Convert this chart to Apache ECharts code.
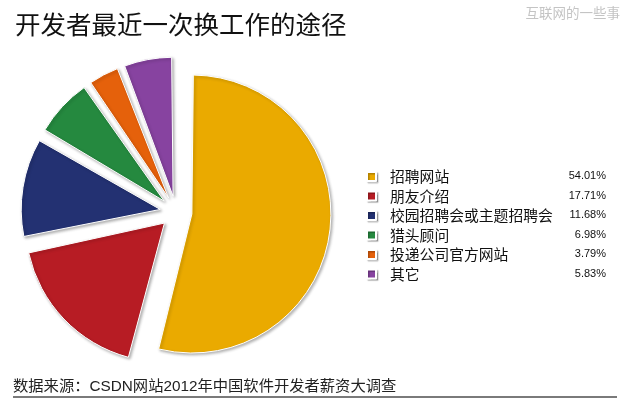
<!DOCTYPE html>
<html>
<head>
<meta charset="utf-8">
<script src="https://cdn.jsdelivr.net/npm/echarts@6/dist/echarts.min.js"></script>
<style>
html,body{margin:0;padding:0;background:#fff;}
#chart{width:628px;height:408px;}
</style>
</head>
<body>
<div id="chart"></div>
<script>
const categories = ['招聘网站', '朋友介绍', '校园招聘会或主题招聘会', '猎头顾问', '投递公司官方网站', '其它'];
const percents = [54.01, 17.71, 11.68, 6.98, 3.79, 5.83];
const colors = ['#EAAA00', '#B71C24', '#233172', '#25893F', '#E5610B', '#8743A0'];
const titleText = '开发者最近一次换工作的途径';
const watermarkText = '互联网的一些事';
const sourceText = '数据来源：CSDN网站2012年中国软件开发者薪资大调查';

const chart = echarts.init(document.getElementById('chart'));
const cjk = '"Noto Sans CJK SC", "Noto Sans", sans-serif';
const mixed = '"Liberation Sans", "Noto Sans CJK SC", sans-serif';
const pctMap = {};
categories.forEach((c, i) => { pctMap[c] = percents[i]; });

chart.setOption({
  backgroundColor: '#ffffff',
  animation: false,
  title: [
    { text: titleText, left: 10, top: 7,
      textStyle: { fontFamily: cjk, fontSize: 25.5, fontWeight: 'normal', color: '#111' } },
    { text: watermarkText, right: 3, top: 1,
      textStyle: { fontFamily: cjk, fontSize: 13.5, fontWeight: 'normal', color: '#c4c4c4' } },
    { text: sourceText, left: 8, top: 374,
      textStyle: { fontFamily: mixed, fontSize: 15.3, fontWeight: 'normal', color: '#222' } }
  ],
  graphic: [
    { type: 'line', shape: { x1: 13, y1: 397, x2: 617, y2: 397 },
      style: { stroke: '#7a7a7a', lineWidth: 2 } }
  ],
  legend: {
    orient: 'vertical',
    left: 361,
    top: 164,
    itemWidth: 9,
    itemHeight: 9,
    itemGap: 4.7,
    icon: 'rect',
    selectedMode: false,
    data: categories,
    itemStyle: { shadowColor: 'rgba(0,0,0,0.25)', shadowBlur: 1, shadowOffsetX: 1.5, shadowOffsetY: 1.5 },
    formatter: function (name) {
      return '{n|' + name + '}{v|' + pctMap[name].toFixed(2) + '%}';
    },
    textStyle: {
      rich: {
        n: { width: 170, fontFamily: cjk, fontSize: 14.8, color: '#111', lineHeight: 16, padding: [0, 0, 0, 9] },
        v: { width: 46, align: 'right', fontFamily: '"Liberation Sans", Arial, sans-serif', fontSize: 11, color: '#111', lineHeight: 16 }
      }
    }
  },
  series: [{
    type: 'pie',
    center: [176, 212],
    radius: 139,
    startAngle: 90,
    clockwise: true,
    padAngle: 1.2,
    selectedMode: 'multiple',
    selectedOffset: 16,
    label: { show: false },
    labelLine: { show: false },
    emphasis: { disabled: true },
    itemStyle: {
      borderColor: '#ffffff',
      borderWidth: 1,
      shadowColor: 'rgba(0,0,0,0.3)',
      shadowBlur: 3,
      shadowOffsetX: 1.5,
      shadowOffsetY: 1.5
    },
    data: categories.map((c, i) => ({
      name: c,
      value: percents[i],
      selected: true,
      itemStyle: { color: colors[i] }
    }))
  }]
});
</script>
</body>
</html>
